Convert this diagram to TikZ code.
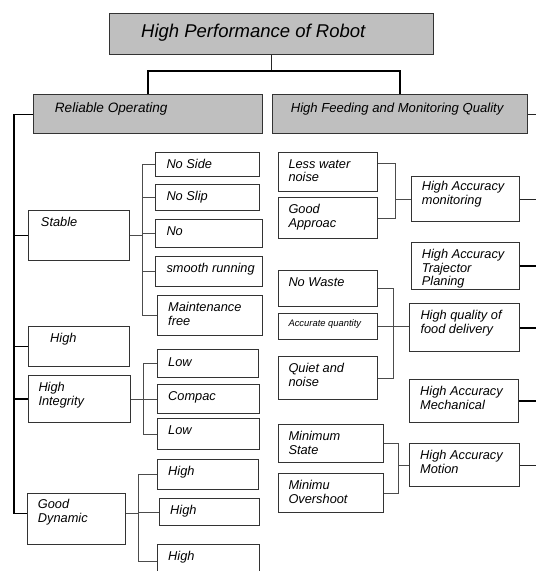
\documentclass[tikz,border=0pt]{standalone}
\usepackage{fontspec}
\setmainfont{Liberation Sans}
\usetikzlibrary{positioning, calc}

\begin{document}
\begin{tikzpicture}[
  x=1pt, y=-1pt,
  font=\itshape\fontsize{12.8}{13.5}\selectfont,
  box/.style 2 args={rectangle, draw=black!80, line width=1pt, fill=white, anchor=north west, inner sep=0pt, minimum width=#1, minimum height=#2},
  head/.style 2 args={box={#1}{#2}, fill=black!25},
  txt/.style={anchor=north west, align=left, inner sep=0pt, xshift=11pt, yshift=-7.4pt},
  lb/.style={label={[txt]north west:#1}},
  link/.style={draw=black!70, line width=0.9pt},
  spine/.style={draw=black, line width=1.4pt},
  trunk/.style={draw=black, line width=1.8pt},
  stem/.style={draw=black!85, line width=1pt},
  exit/.style={draw=black!85, line width=0.9pt},
  bigexit/.style={draw=black, line width=2pt}]
\useasboundingbox (0,0) rectangle (536,571);
\fill[white] (0,0) rectangle (536,571);
\clip (0,0) rectangle (536,571);
% top levels
\node[head={324}{41.5}, label={[txt, font=\itshape\fontsize{18.5}{20}\selectfont, xshift=21pt, yshift=-3.3pt]north west:High Performance of Robot}] (title) at (109,12.7) {};
\node[head={229}{39}, label={[txt, font=\itshape\fontsize{13.6}{14}\selectfont, xshift=10.7pt, yshift=-0.7pt]north west:Reliable Operating}] (rel) at (33,94.3) {};
\node[head={255}{39}, label={[txt, font=\itshape\fontsize{13.1}{14}\selectfont, xshift=7.6pt, yshift=-0.9pt]north west:High Feeding and Monitoring Quality}] (feed) at (272,94.3) {};
% left column
\node[box={101}{50}, label={[txt, xshift=1.5pt]north west:Stable}] (stable) at (28.3,210) {};
\node[box={101}{40}, label={[txt, xshift=10.7pt]north west:High}] (high) at (28.3,326) {};
\node[box={102}{47}, label={[txt, xshift=-1pt]north west:High\\Integrity}] (integ) at (28.3,375) {};
\node[box={98}{51}, label={[txt, yshift=1pt]north west:Good\\Dynamic}] (dyn) at (26.7,493) {};
\node[box={104}{24}, lb={No Side}] (nside) at (155.3,152) {};
\node[box={104}{26}, lb={No Slip}] (nslip) at (155.3,184) {};
\node[box={107}{28}, lb={No}] (nonode) at (155.3,219) {};
\node[box={107}{30}, lb={smooth running}] (smooth) at (155.3,256) {};
\node[box={105}{40}, lb={Maintenance\\free}] (maint) at (157,295) {};
\node[box={101}{28}, label={[txt, yshift=-1pt]north west:Low}] (lowa) at (157,349) {};
\node[box={102}{29}, lb={Compac}] (compac) at (157,384) {};
\node[box={102}{31}, lb={Low}] (lowb) at (157,418) {};
\node[box={101}{30}, lb={High}] (higha) at (157,459) {};
\node[box={100}{27}, lb={High}] (highb) at (159,498) {};
\node[box={102}{34}, lb={High}] (highc) at (157,544) {};
% right column
\node[box={99}{39}, label={[txt, xshift=-1pt]north west:Less water\\noise}] (lessw) at (278.3,152) {};
\node[box={99}{41}, label={[txt, xshift=-1pt]north west:Good\\Approac}] (goodap) at (278.3,197) {};
\node[box={108.6}{45}, label={[txt, yshift=2pt]north west:High Accuracy\\monitoring}] (hamon) at (410.7,176) {};
\node[box={108.6}{47}, lb={High Accuracy\\Trajector\\Planing}] (hatraj) at (410.7,242) {};
\node[box={99}{36}, label={[txt, xshift=-1pt]north west:No Waste}] (nowaste) at (278.3,270) {};
\node[box={99}{26}, label={[txt, xshift=-1pt, yshift=0.8pt, font=\itshape\fontsize{9.4}{10}\selectfont]north west:Accurate quantity}] (accq) at (278.3,313) {};
\node[box={99}{43}, label={[txt, xshift=-1pt]north west:Quiet and\\noise}] (quiet) at (278.3,356) {};
\node[box={110}{48}, lb={High quality of\\food delivery}] (hqfood) at (409.3,303) {};
\node[box={109.3}{43}, lb={High Accuracy\\Mechanical}] (hamech) at (409,379) {};
\node[box={104.4}{38}, label={[txt, xshift=-1pt]north west:Minimum\\State}] (minst) at (278.3,424) {};
\node[box={104.4}{39}, label={[txt, xshift=-1pt]north west:Minimu\\Overshoot}] (minov) at (278.3,473) {};
\node[box={110.3}{43}, lb={High Accuracy\\Motion}] (hamot) at (409,443) {};
% trunk
\coordinate (tj) at (0,71);
\draw[stem] (title.south) -- (title.south |- tj);
\draw[trunk] (rel.north) |- (title.south |- tj) -| (feed.north);
% left spine
\coordinate (sp) at (14,0);
\coordinate (dynw) at ([yshift=5.5pt]dyn.west);
\coordinate (dyne) at ([yshift=5.5pt]dyn.east);
\draw[spine] (rel.west) -| (sp |- dynw) -- (dynw);
\draw[spine] (sp |- stable.west) -- (stable.west);
\draw[spine] (sp |- high.west) -- (high.west);
\draw[spine] (sp |- integ.west) -- (integ.west);
% brackets left
\coordinate (sb) at (142,0);
\draw[link] (stable.east) -- (sb |- stable.east);
\draw[link] (nside.west) -- (sb |- nside.west) |- (maint.west);
\foreach \n in {nslip, nonode, smooth} \draw[link] (\n.west) -- (sb |- \n.west);
\coordinate (ib) at (143,0);
\draw[link] (integ.east) -- (compac.west);
\draw[link] (lowa.west) -- (ib |- lowa.west) |- (lowb.west);
\coordinate (db) at (138.3,0);
\draw[link] (dyne) -- (db |- dyne);
\draw[link] (highb.west) -- (db |- highb.west);
\draw[link] (higha.west) -- (db |- higha.west) |- (highc.west);
% brackets right
\coordinate (rb1) at (395,0);
\coordinate (lw) at ([yshift=8.5pt]lessw.east);
\draw[link] (lw) -- (rb1 |- lw) |- (goodap.east);
\draw[link] (hamon.west) -- (rb1 |- hamon.west);
\coordinate (rb2) at (393,0);
\draw[link] (nowaste.east) -- (rb2 |- nowaste.east) |- (quiet.east);
\draw[link] (accq.east) -- (accq.east -| hqfood.west);
\coordinate (rb3) at (398,0);
\draw[link] (minst.east) -- (rb3 |- minst.east) |- (minov.east);
\draw[link] (hamot.west) -- (rb3 |- hamot.west);
% exits to the right
\coordinate (edge) at (536,0);
\draw[exit] (feed.east) -- (edge |- feed.east);
\draw[exit] (hamon.east) -- (edge |- hamon.east);
\draw[bigexit] (hatraj.east) -- (edge |- hatraj.east);
\draw[bigexit] (hqfood.east) -- (edge |- hqfood.east);
\draw[bigexit] (hamech.east) -- (edge |- hamech.east);
\draw[exit] (hamot.east) -- (edge |- hamot.east);
\end{tikzpicture}
\end{document}
